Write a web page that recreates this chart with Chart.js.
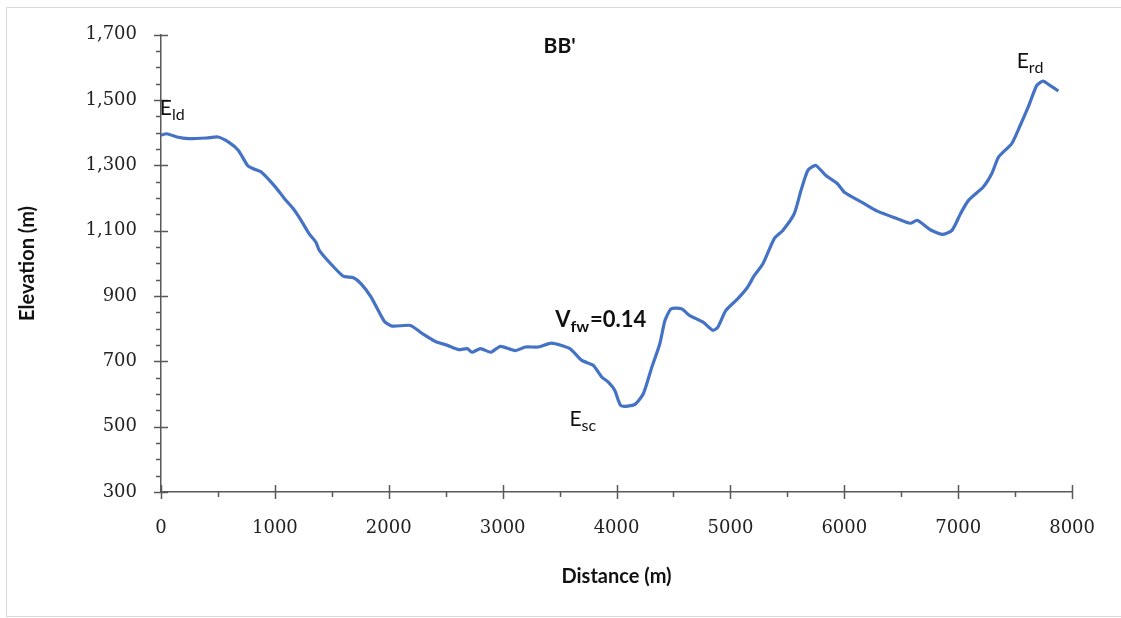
<!DOCTYPE html>
<html>
<head>
<meta charset="utf-8">
<title>BB' elevation profile</title>
<script src="https://cdn.jsdelivr.net/npm/chart.js@4.4.1/dist/chart.umd.min.js"></script>
<style>
  html, body { margin: 0; padding: 0; background: #fff; overflow: hidden; }
  #frame {
    position: absolute; left: 6px; top: 7px; width: 1200px; height: 610px;
    border: 1px solid #d9d9d9; border-right: none; box-sizing: border-box;
  }
  #profile { position: absolute; left: 0; top: 0; }
</style>
</head>
<body>
<div id="frame"></div>
<canvas id="profile" width="1121" height="618"></canvas>
<script>
// Cross-section BB'
const distance = [0, 50, 140, 240, 400, 500, 600, 680, 760, 810, 880, 1000, 1085, 1160, 1230, 1300,
  1360, 1390, 1490, 1600, 1690, 1755, 1845, 1960, 2030, 2190, 2295, 2410, 2515, 2615, 2690, 2730,
  2805, 2895, 2980, 3110, 3200, 3315, 3430, 3590, 3695, 3795, 3870, 3930, 3985, 4040, 4160, 4235,
  4305, 4380, 4425, 4480, 4570, 4640, 4760, 4845, 4890, 4960, 5065, 5150, 5210, 5285, 5385, 5460,
  5560, 5620, 5680, 5750, 5835, 5940, 6000, 6175, 6290, 6465, 6580, 6640, 6755, 6860, 6945, 7020,
  7090, 7220, 7295, 7355, 7470, 7545, 7615, 7690, 7745, 7805, 7880];
const elevation = [1393, 1397, 1387, 1382, 1384, 1387, 1370, 1346, 1300, 1290, 1280, 1236, 1198, 1168, 1132, 1091,
  1065, 1040, 999, 961, 956, 938, 897, 823, 808, 810, 785, 761, 749, 736, 739, 728,
  739, 728, 746, 733, 744, 744, 756, 739, 703, 688, 652, 636, 611, 564, 568, 601,
  677, 754, 825, 861, 861, 841, 820, 795, 805, 856, 892, 927, 963, 999, 1076, 1101,
  1152, 1224, 1285, 1300, 1270, 1244, 1218, 1183, 1160, 1137, 1123, 1132, 1103, 1089, 1101, 1152,
  1193, 1234, 1275, 1326, 1367, 1423, 1479, 1545, 1558, 1545, 1528];
const xTicks = [0, 1000, 2000, 3000, 4000, 5000, 6000, 7000, 8000];
const yTicks = [300, 500, 700, 900, 1100, 1300, 1500, 1700];

// point labels: main text, subscript, tail, anchor (data units)
const labels = [
  { text: "BB'", sub: '', tail: '', x: 3500, y: 1643, bold: true, size: 21, align: 'center' },
  { text: 'E', sub: 'ld', tail: '', x: -10, y: 1453, bold: false, size: 21 },
  { text: 'E', sub: 'sc', tail: '', x: 3586, y: 502, bold: false, size: 21 },
  { text: 'E', sub: 'rd', tail: '', x: 7514, y: 1597, bold: false, size: 21 },
  { text: 'V', sub: 'fw', tail: '=0.14', x: 3461, y: 805, bold: true, size: 22 }
];

const axisColor = '#595959';

// tick marks: majors cross the axis, minors sit outside
const tickMarks = {
  id: 'tickMarks',
  afterDraw(chart) {
    const { ctx, scales: { x, y } } = chart;
    ctx.save();
    ctx.strokeStyle = axisColor;
    ctx.lineWidth = 1.5;
    ctx.beginPath();
    for (let v = 300; v <= 1700; v += 50) {
      const py = Math.round(y.getPixelForValue(v)) + 0.5;
      const major = yTicks.includes(v);
      ctx.moveTo(x.left - (major ? 7 : 5), py);
      ctx.lineTo(x.left + (major ? 7 : 0), py);
    }
    for (let v = 0; v <= 8000; v += 500) {
      const px = Math.round(x.getPixelForValue(v)) + 0.5;
      const major = xTicks.includes(v);
      ctx.moveTo(px, y.bottom - (major ? 7 : 0));
      ctx.lineTo(px, y.bottom + (major ? 7 : 5));
    }
    ctx.stroke();
    ctx.restore();
  }
};

const pointLabels = {
  id: 'pointLabels',
  afterDraw(chart) {
    const { ctx, scales: { x, y } } = chart;
    ctx.save();
    ctx.fillStyle = '#111';
    ctx.textBaseline = 'alphabetic';
    labels.forEach(l => {
      const weight = l.bold ? 'bold ' : '';
      const mainFont = weight + l.size + 'px Lato';
      const subFont = weight + Math.round(l.size * 0.74) + 'px Lato';
      ctx.font = mainFont;
      const w1 = ctx.measureText(l.text).width;
      ctx.font = subFont;
      const w2 = l.sub ? ctx.measureText(l.sub).width : 0;
      ctx.font = mainFont;
      const w3 = l.tail ? ctx.measureText(l.tail).width : 0;
      let px = x.getPixelForValue(l.x);
      const py = y.getPixelForValue(l.y);
      if (l.align === 'center') px -= (w1 + w2 + w3) / 2;
      ctx.textAlign = 'left';
      ctx.fillText(l.text, px, py);
      if (l.sub) {
        ctx.font = subFont;
        ctx.fillText(l.sub, px + w1, py + 4.5);
      }
      if (l.tail) {
        ctx.font = mainFont;
        ctx.fillText(l.tail, px + w1 + w2 + 1, py);
      }
    });
    ctx.restore();
  }
};

new Chart(document.getElementById('profile'), {
  type: 'line',
  data: {
    datasets: [{
      data: distance.map((d, i) => ({ x: d, y: elevation[i] })),
      borderColor: '#4472C4',
      borderWidth: 3.2,
      pointRadius: 0,
      tension: 0.2,
      fill: false
    }]
  },
  options: {
    responsive: false,
    animation: false,
    layout: { padding: { top: 34, right: 47, left: 0, bottom: 0 } },
    plugins: { legend: { display: false }, tooltip: { enabled: false } },
    scales: {
      x: {
        type: 'linear',
        min: 0,
        max: 8000,
        afterFit(scale) { scale.height = 126; },
        afterBuildTicks(scale) { scale.ticks = xTicks.map(v => ({ value: v })); },
        grid: { display: false, drawTicks: false },
        border: { display: true, color: axisColor, width: 1.5 },
        ticks: {
          padding: 26,
          color: '#222',
          font: { family: "'DejaVu Serif', serif", size: 18 },
          maxRotation: 0,
          callback: v => String(v)
        },
        title: {
          display: true,
          text: 'Distance (m)',
          color: '#111',
          font: { family: 'Lato', size: 20, weight: 'bold' },
          padding: { top: 0, bottom: 29 }
        }
      },
      y: {
        min: 300,
        max: 1700,
        afterFit(scale) { scale.width = 161; },
        afterBuildTicks(scale) { scale.ticks = yTicks.map(v => ({ value: v })); },
        grid: { display: false, drawTicks: false },
        border: { display: true, color: axisColor, width: 1.5 },
        ticks: {
          padding: 24,
          color: '#222',
          font: { family: "'DejaVu Serif', serif", size: 18 },
          callback: v => v.toLocaleString('en-US')
        },
        title: {
          display: true,
          text: 'Elevation (m)',
          color: '#111',
          font: { family: 'Lato', size: 20, weight: 'bold' },
          padding: { top: 16, bottom: 0 }
        }
      }
    }
  },
  plugins: [tickMarks, pointLabels]
});
</script>
</body>
</html>
